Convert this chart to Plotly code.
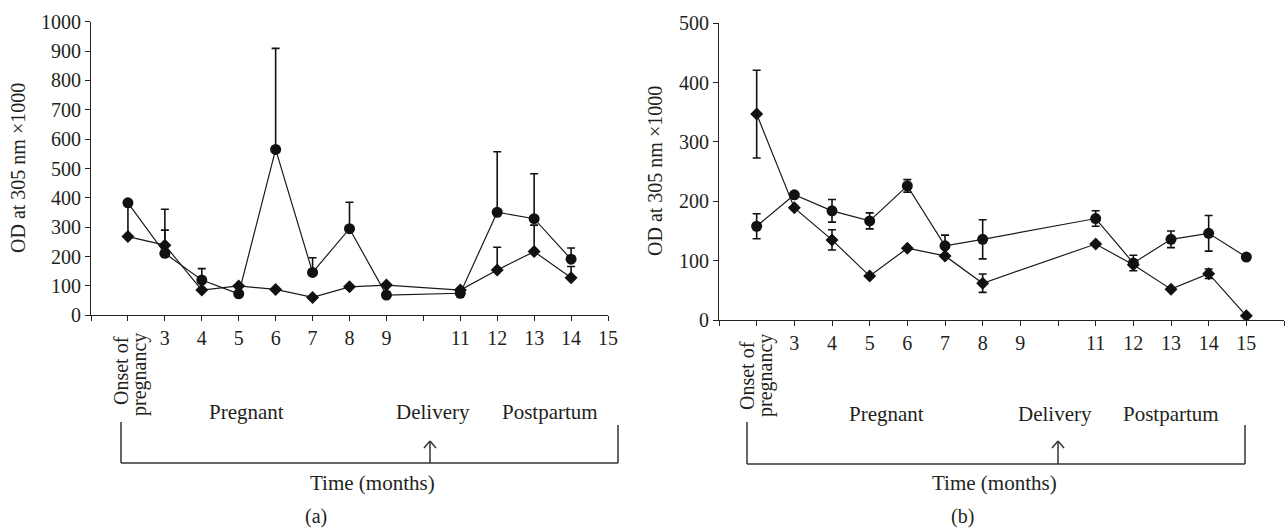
import plotly.graph_objects as go

# ---------------- data ----------------
months_a = [2, 3, 4, 5, 6, 7, 8, 9, 11, 12, 13, 14]
circle_a = [383, 211, 120, 73, 565, 146, 295, 69, 75, 351, 329, 191]
circle_a_err = [0, 79, 39, 0, 344, 50, 90, 0, 0, 206, 153, 38]
diamond_a = [268, 239, 86, 100, 88, 61, 97, 103, 86, 154, 217, 128]
diamond_a_err = [112, 122, 0, 0, 0, 0, 0, 0, 0, 78, 90, 38]

months_b = [2, 3, 4, 5, 6, 7, 8, 11, 12, 13, 14, 15]
circle_b = [158, 211, 184, 167, 226, 125, 136, 171, 96, 136, 146, 106]
circle_b_err = [21, 0, 19, 13.5, 10.5, 18, 33, 13, 13, 14, 30, 0]
diamond_b = [347, 189, 135, 74, 121, 108, 62, 128, 93, 52, 78, 7]
diamond_b_err = [74, 0, 17, 0, 0, 0, 15.5, 0, 0, 0, 8, 0]

tick_vals_a = list(range(1, 16))
tick_text_a = ["", "", "3", "4", "5", "6", "7", "8", "9", "", "11", "12", "13", "14", "15"]
tick_vals_b = list(range(1, 17))
tick_text_b = ["", "", "3", "4", "5", "6", "7", "8", "9", "", "11", "12", "13", "14", "15", ""]

y_title = "OD at 305 nm \u00d71000"
onset_lines = ["Onset of", "pregnancy"]
phase_labels = ["Pregnant", "Delivery", "Postpartum"]
x_title = "Time (months)"
panel_labels = ["(a)", "(b)"]

# ---------------- layout helpers ----------------
W, H = 1287, 531
FONT = "Liberation Serif, Times New Roman, serif"
TXT = "#231f20"
FS = 20
FS_ANN = 21


def X(px):
    return px / W


def Y(py):
    return 1 - py / H


fig = go.Figure()

line_style = dict(color="#1a1a1a", width=1.2)


def add_series(x, y, err, sym, size, xa, ya, symmetric):
    fig.add_trace(go.Scatter(
        x=x, y=y, mode="lines+markers", xaxis=xa, yaxis=ya,
        line=line_style,
        marker=dict(symbol=sym, size=size, color="#111111"),
        error_y=dict(type="data", array=err, symmetric=symmetric,
                     arrayminus=None if symmetric else [0] * len(err),
                     color="#111111", thickness=1.6, width=4),
        showlegend=False, hoverinfo="x+y",
    ))


add_series(months_a, diamond_a, diamond_a_err, "diamond", 10, "x", "y", False)
add_series(months_a, circle_a, circle_a_err, "circle", 11, "x", "y", False)
add_series(months_b, diamond_b, diamond_b_err, "diamond", 10, "x2", "y2", True)
add_series(months_b, circle_b, circle_b_err, "circle", 11, "x2", "y2", True)

axis_common = dict(showgrid=False, zeroline=False, showline=True, linecolor="#222",
                   linewidth=1.2, ticks="outside", ticklen=5, tickcolor="#222",
                   tickwidth=1.2, automargin=False,
                   tickfont=dict(family=FONT, size=FS, color=TXT))

fig.update_layout(
    width=W, height=H, margin=dict(l=0, r=0, t=0, b=0, pad=0), autosize=False,
    plot_bgcolor="white", paper_bgcolor="white",
    xaxis=dict(domain=[X(91), X(608)], range=[1, 15], tickvals=tick_vals_a,
               ticktext=tick_text_a, anchor="y", **axis_common),
    yaxis=dict(domain=[Y(315.3), Y(21.7)], range=[0, 1000], dtick=100,
               anchor="x", **axis_common),
    xaxis2=dict(domain=[X(719), X(1284)], range=[1, 16], tickvals=tick_vals_b,
                ticktext=tick_text_b, anchor="y2", **axis_common),
    yaxis2=dict(domain=[Y(320), Y(23.3)], range=[0, 500], dtick=100,
                anchor="x2", **axis_common),
)

ann = []
shapes = []


def text(px, py, s, angle=0, size=FS_ANN):
    ann.append(dict(x=X(px), y=Y(py), xref="paper", yref="paper", text=s,
                    showarrow=False, textangle=angle, xanchor="center",
                    yanchor="middle",
                    font=dict(family=FONT, size=size, color=TXT)))


def line(x0, y0, x1, y1):
    shapes.append(dict(type="line", xref="paper", yref="paper",
                       x0=X(x0), y0=Y(y0), x1=X(x1), y1=Y(y1),
                       line=dict(color="#333", width=1.5)))


panels = [
    dict(ytx=18, yty=168, on1=(121, 371), on2=(139, 375), preg=(247, 412),
         deliv=(433, 412), post=(550, 412), bl=121, br=618, btop_l=422,
         btop_r=425, bbot=463, arrow=430, time=(372, 483), lab=(316, 516)),
    dict(ytx=655, yty=171, on1=(747, 376), on2=(765, 376), preg=(886, 414),
         deliv=(1055, 414), post=(1171, 414), bl=747, br=1245, btop_l=422,
         btop_r=425, bbot=464, arrow=1058, time=(995, 483), lab=(962, 516)),
]

for i, p in enumerate(panels):
    text(p["ytx"], p["yty"], y_title, angle=-90, size=FS)
    text(*p["on1"], onset_lines[0], angle=-90, size=FS)
    text(*p["on2"], onset_lines[1], angle=-90, size=FS)
    text(*p["preg"], phase_labels[0])
    text(*p["deliv"], phase_labels[1])
    text(*p["post"], phase_labels[2])
    text(*p["time"], x_title)
    text(*p["lab"], panel_labels[i], size=FS)
    line(p["bl"], p["btop_l"], p["bl"], p["bbot"])
    line(p["br"], p["btop_r"], p["br"], p["bbot"])
    line(p["bl"], p["bbot"], p["br"], p["bbot"])
    a = p["arrow"]
    line(a, p["bbot"], a, 441)
    line(a - 6, 448, a, 441)
    line(a + 6, 448, a, 441)

fig.update_layout(annotations=ann, shapes=shapes)
fig.write_html("out.html", config={"displayModeBar": False},
               post_script="document.body.style.margin='0';document.body.style.overflow='hidden';")
